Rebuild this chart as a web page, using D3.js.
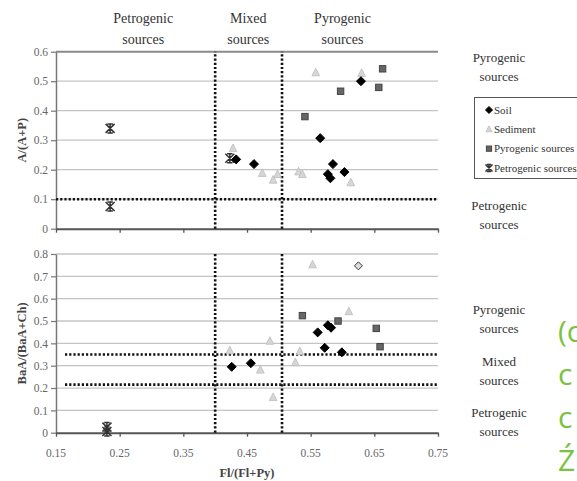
<!DOCTYPE html>
<html><head><meta charset="utf-8">
<script src="https://cdn.jsdelivr.net/npm/d3@7"></script>
<style>body{margin:0;background:#fff;} svg{display:block;} .sf{font-family:"Liberation Serif","DejaVu Serif",serif;}</style>
</head><body>
<svg id="c" width="577" height="481"></svg>
<script>
// ---- data ----
const xTicks = [0.15, 0.25, 0.35, 0.45, 0.55, 0.65, 0.75];
const yTicksTop = [0, 0.1, 0.2, 0.3, 0.4, 0.5, 0.6];
const yTicksBottom = [0, 0.1, 0.2, 0.3, 0.4, 0.5, 0.6, 0.7, 0.8];
const xThresholds = [0.40, 0.505];
const yThresholdTop = [0.1];
const yThresholdBottom = [0.215, 0.35];

// top panel: A/(A+P) vs Fl/(Fl+Py)
const soilTop = [[0.433,0.235],[0.461,0.219],[0.629,0.50],[0.565,0.307],[0.585,0.219],[0.603,0.192],[0.577,0.185],[0.581,0.171]];
const sedimentTop = [[0.558,0.529],[0.630,0.527],[0.531,0.193],[0.537,0.184],[0.613,0.156],[0.428,0.272],[0.474,0.188],[0.491,0.165],[0.498,0.184]];
const pyroTop = [[0.663,0.542],[0.657,0.479],[0.597,0.466],[0.541,0.380]];
const petroTop = [[0.235,0.34],[0.235,0.075],[0.423,0.239]];

// bottom panel: BaA/(BaA+Ch) vs Fl/(Fl+Py)
const soilBottom = [[0.426,0.295],[0.456,0.311],[0.561,0.449],[0.577,0.481],[0.582,0.470],[0.572,0.380],[0.599,0.360]];
const soilOpenBottom = [[0.625,0.747]];
const sedimentBottom = [[0.553,0.752],[0.610,0.542],[0.486,0.41],[0.423,0.367],[0.471,0.281],[0.491,0.158],[0.533,0.363],[0.526,0.314]];
const pyroBottom = [[0.537,0.524],[0.593,0.500],[0.653,0.467],[0.659,0.385]];
const petroBottom = [[0.230,0.025],[0.230,0.005]];

const topHeaders = [["Petrogenic","sources"],["Mixed","sources"],["Pyrogenic","sources"]];
const topHeaderX = [0.287, 0.452, 0.600];
const rightLabelsTop = [["Pyrogenic","sources"],["Petrogenic","sources"]];
const rightLabelsBottom = [["Pyrogenic","sources"],["Mixed","sources"],["Petrogenic","sources"]];
const legendLabels = ["Soil","Sediment","Pyrogenic sources","Petrogenic sources"];
const sideText = ["(c","c","c","Ź"];

// ---- drawing ----
const svg = d3.select("#c");
const x = d3.scaleLinear().domain([0.15,0.75]).range([56,438]);
const yT = d3.scaleLinear().domain([0,0.6]).range([228.7,51.7]);
const yB = d3.scaleLinear().domain([0,0.8]).range([432.7,254]);

function panel(y, ticks, hThr, topColor, thrStart) {
  const g = svg.append("g");
  g.selectAll(".grid").data(ticks.slice(1)).join("line")
    .attr("x1", x(0.15)).attr("x2", x(0.75))
    .attr("y1", d=>y(d)).attr("y2", d=>y(d))
    .attr("stroke", (d,i)=> i===ticks.length-2 ? topColor : "#c4c4c4")
    .attr("stroke-width", (d,i)=> i===ticks.length-2 && topColor!=="#c4c4c4" ? 2 : 1.3);
  const ax = g.append("g").attr("transform", `translate(${x(0.15)},0)`)
    .call(d3.axisLeft(y).tickValues(ticks).tickFormat(d=>d===0?"0":d3.format(".1f")(d)).tickSize(5).tickSizeOuter(0));
  ax.attr("font-family", null);
  ax.select(".domain").attr("stroke","#777").attr("stroke-width",1.5);
  ax.selectAll(".tick line").attr("stroke","#777").attr("stroke-width",1.2);
  ax.selectAll(".tick text").attr("class","sf").attr("fill","#666").attr("font-size",11.5).attr("x",-8);
  const bx = g.append("g").attr("transform", `translate(0,${y(0)})`)
    .call(d3.axisBottom(x).tickValues(xTicks).tickSize(4).tickSizeOuter(0).tickFormat(""));
  bx.select(".domain").attr("stroke","#555").attr("stroke-width",2);
  bx.selectAll(".tick line").attr("stroke","#555").attr("stroke-width",1.3);
  g.selectAll(".hthr").data(hThr).join("line")
    .attr("x1", thrStart).attr("x2", x(0.75))
    .attr("y1", d=>y(d)).attr("y2", d=>y(d))
    .attr("stroke","#111").attr("stroke-width",2.6).attr("stroke-dasharray","2.2,2");
  g.selectAll(".vthr").data(xThresholds).join("line")
    .attr("x1", d=>x(d)).attr("x2", d=>x(d))
    .attr("y1", y(0)).attr("y2", y.range()[1])
    .attr("stroke","#111").attr("stroke-width",2.6).attr("stroke-dasharray","2.2,2");
  return g;
}

const gT = panel(yT, yTicksTop, yThresholdTop, "#8a8a8a", x(0.15));
const gB = panel(yB, yTicksBottom, yThresholdBottom, "#c4c4c4", x(0.15)+9);

svg.selectAll(".xl").data(xTicks).join("text").attr("class","sf")
  .attr("x", d=>x(d)).attr("y", 457).attr("text-anchor","middle")
  .attr("font-size",11.5).attr("fill","#666")
  .text(d=>d3.format(".2f")(d));

function diamond(g, cx, cy, s, fill, stroke) {
  g.append("path").attr("d", `M${cx},${cy-s}L${cx+s},${cy}L${cx},${cy+s}L${cx-s},${cy}Z`)
    .attr("fill", fill).attr("stroke", stroke||fill).attr("stroke-width", 1);
}
function tri(g, cx, cy, s) {
  g.append("path").attr("d", `M${cx},${cy-s}L${cx+s*0.85},${cy+s*0.7}L${cx-s*0.85},${cy+s*0.7}Z`)
    .attr("fill","#d6d6d6").attr("stroke","#bdbdbd").attr("stroke-width",0.8);
}
function square(g, cx, cy, s) {
  g.append("rect").attr("x",cx-s).attr("y",cy-s).attr("width",2*s).attr("height",2*s)
    .attr("fill","#666").attr("stroke","#444").attr("stroke-width",1);
}
function star(g, cx, cy, s) {
  const p = `M${cx-s},${cy-s}L${cx+s},${cy+s}M${cx+s},${cy-s}L${cx-s},${cy+s}M${cx},${cy-s}L${cx},${cy+s}M${cx-s*0.6},${cy-s}L${cx+s*0.6},${cy-s}M${cx-s*0.6},${cy+s}L${cx+s*0.6},${cy+s}`;
  g.append("path").attr("d",p).attr("stroke","#333").attr("stroke-width",1.5).attr("fill","none");
}
function drawSet(g, y, data, fn, s, a, b) {
  data.forEach(d => fn(g, x(d[0]), y(d[1]), s, a, b));
}
drawSet(gT, yT, sedimentTop, tri, 4.5);
drawSet(gT, yT, pyroTop, square, 3.2);
drawSet(gT, yT, petroTop, star, 4.5);
drawSet(gT, yT, soilTop, diamond, 4.5, "#000");
drawSet(gB, yB, sedimentBottom, tri, 4.5);
drawSet(gB, yB, pyroBottom, square, 3.2);
drawSet(gB, yB, petroBottom, star, 4.5);
drawSet(gB, yB, soilBottom, diamond, 4.5, "#000");
drawSet(gB, yB, soilOpenBottom, diamond, 4, "#ddd", "#333");

svg.append("text").attr("class","sf").attr("transform",`translate(26,${(yT(0)+yT(0.6))/2}) rotate(-90)`)
  .attr("text-anchor","middle").attr("font-weight","bold")
  .attr("font-size",12.5).attr("fill","#444").text("A/(A+P)");
svg.append("text").attr("class","sf").attr("transform",`translate(26,${(yB(0)+yB(0.8))/2}) rotate(-90)`)
  .attr("text-anchor","middle").attr("font-weight","bold")
  .attr("font-size",12.5).attr("fill","#444").text("BaA/(BaA+Ch)");
svg.append("text").attr("class","sf").attr("x", x(0.45)).attr("y", 477).attr("text-anchor","middle")
  .attr("font-weight","bold").attr("font-size",12.5).attr("fill","#444")
  .text("Fl/(Fl+Py)");

function twoLine(cx, cy1, lines, size, gap) {
  const t = svg.append("text").attr("class","sf").attr("text-anchor","middle")
    .attr("font-size",size).attr("fill","#333");
  t.append("tspan").attr("x",cx).attr("y",cy1).text(lines[0]);
  t.append("tspan").attr("x",cx).attr("y",cy1+gap).text(lines[1]);
}
topHeaders.forEach((l,i)=> twoLine(x(topHeaderX[i]), 23, l, 14, 21));
const rtY = [62, 210];
rightLabelsTop.forEach((l,i)=> twoLine(499, rtY[i], l, 13, 19));
const rbY = [314, 366, 417];
rightLabelsBottom.forEach((l,i)=> twoLine(499, rbY[i], l, 13, 19));

const lg = svg.append("g");
lg.append("rect").attr("x",474.5).attr("y",97.5).attr("width",120).attr("height",81)
  .attr("fill","#fff").attr("stroke","#555").attr("stroke-width",1);
const lgY = d3.scalePoint().domain(legendLabels).range([110,168]);
const lgFns = [
  (cx,cy)=>diamond(lg,cx,cy,3.5,"#000"),
  (cx,cy)=>tri(lg,cx,cy,3.5),
  (cx,cy)=>square(lg,cx,cy,2.6),
  (cx,cy)=>star(lg,cx,cy,3.5)
];
legendLabels.forEach((l,i)=>{
  lgFns[i](489, lgY(l));
  lg.append("text").attr("class","sf").attr("x",494).attr("y",lgY(l)+3.5)
    .attr("font-size",11).attr("fill","#333").text(l);
});

const sideY = d3.scalePoint().domain(d3.range(sideText.length)).range([342,471]);
sideText.forEach((s,i)=>{
  svg.append("text").attr("x",558).attr("y",sideY(i)).attr("font-family","Open Sans, sans-serif")
    .attr("font-size",30).attr("fill","#7cc242").text(s);
});
</script>
</body></html>
